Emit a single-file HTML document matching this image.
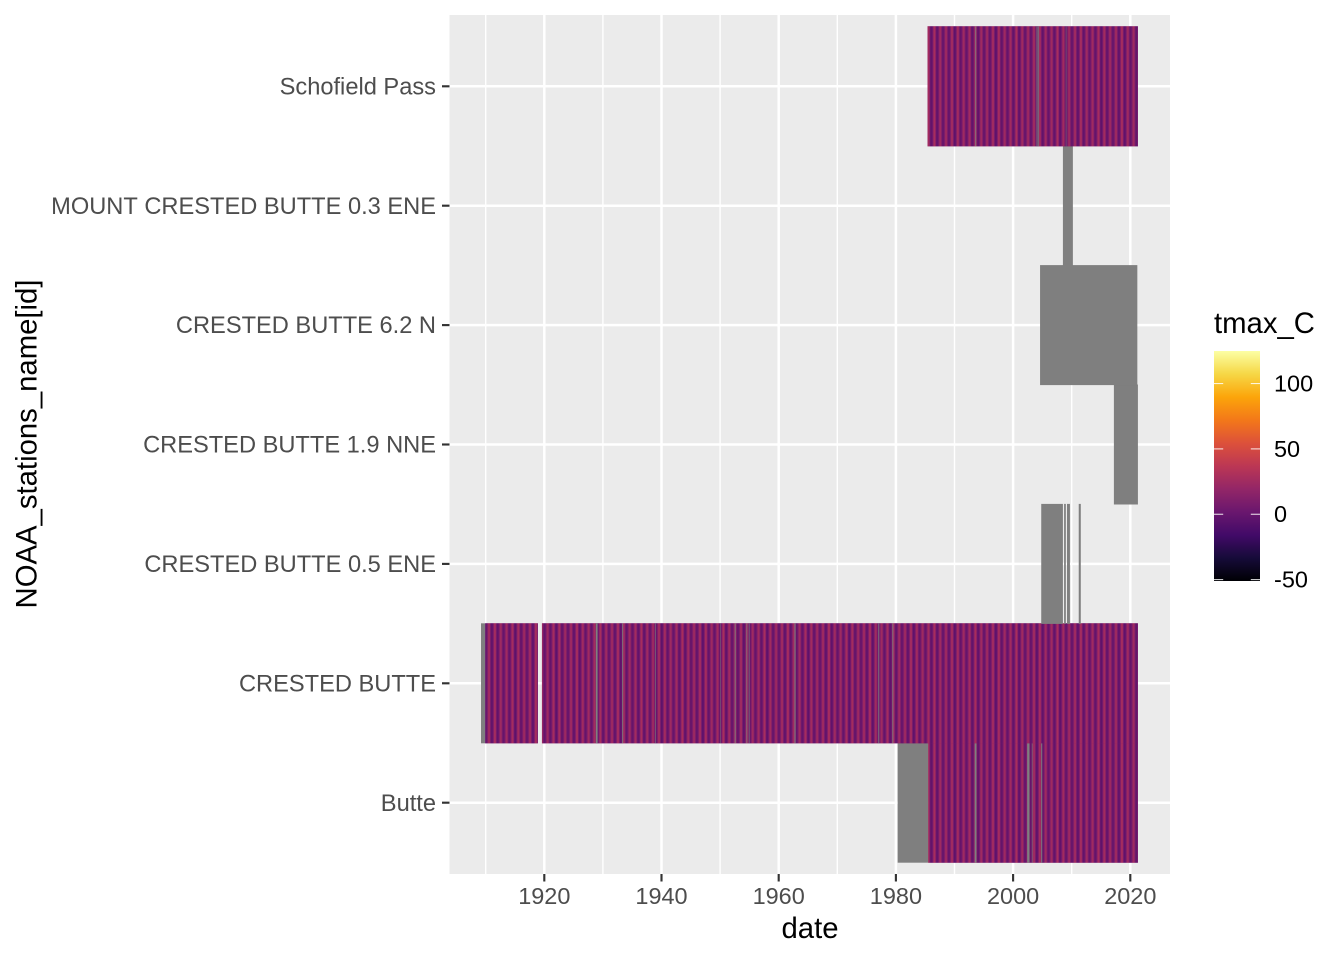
<!DOCTYPE html>
<html>
<head>
<meta charset="utf-8">
<title>tmax_C by station and date</title>
<style>
html,body{margin:0;padding:0;background:#fff}
svg{display:block}
text{font-family:"Liberation Sans",sans-serif;font-kerning:none}
</style>
</head>
<body>
<svg id="chart" xmlns="http://www.w3.org/2000/svg" width="1344" height="960" viewBox="0 0 1344 960">
  <defs>
    <linearGradient id="legend-gradient" x1="0" y1="1" x2="0" y2="0"></linearGradient>
  </defs>
  <rect x="0" y="0" width="1344" height="960" fill="#ffffff"/>
  <rect x="449.5" y="15" width="720.5" height="859" fill="#ebebeb"/>
  <g id="grid"></g>
  <g id="tiles"></g>
  <g id="x-axis"></g>
  <g id="y-axis"></g>
  <text x="810" y="938" font-size="29.3" text-anchor="middle" fill="#000">date</text>
  <text transform="translate(36.5,444) rotate(-90)" font-size="29.3" text-anchor="middle" fill="#000">NOAA_stations_name[id]</text>
  <g id="legend">
    <text x="1214" y="333" font-size="29.3" fill="#000">tmax_C</text>
    <rect x="1214" y="351" width="46" height="230" fill="url(#legend-gradient)"/>
  </g>
</svg>
<script>
const stationNames = ["Butte", "CRESTED BUTTE", "CRESTED BUTTE 0.5 ENE", "CRESTED BUTTE 1.9 NNE", "CRESTED BUTTE 6.2 N", "MOUNT CRESTED BUTTE 0.3 ENE", "Schofield Pass"];
const xTickYears = [1920, 1940, 1960, 1980, 2000, 2020];
const xMinorYears = [1910, 1930, 1950, 1970, 1990, 2010];
const legendTicks = [-50, 0, 50, 100];
const monthlyTmaxC = [-4, -3, 1, 8, 16, 25, 30, 29, 24, 14, 4, -3];
const observedSpans = [
  [[1985.5, 2021.3]],
  [[1909.9, 1918.9], [1919.6, 2021.3]],
  [],
  [],
  [],
  [],
  [[1985.4, 2021.3]]
];
const missingSpans = [
  [[1980.3, 1985.5], [1993.45, 1993.75], [2002.4, 2002.8], [2003.2, 2003.3], [2004.8, 2004.97]],
  [[1909.2, 1909.9], [1928.8, 1929.1], [1933.3, 1933.45], [1938.9, 1939.0], [1950.0, 1950.08], [1952.5, 1952.65], [1954.5, 1954.62], [1954.9, 1955.02], [1962.7, 1962.88], [1977.0, 1977.15], [1979.4, 1979.55]],
  [[2004.8, 2008.5], [2008.7, 2009.0], [2009.2, 2009.7], [2011.2, 2011.55]],
  [[2017.2, 2021.3]],
  [[2004.6, 2021.2]],
  [[2008.5, 2010.2]],
  [[1993.55, 1993.7], [2004.0, 2004.17], [2004.3, 2004.42], [2009.0, 2009.08]]
];
const infernoColors = ["#000004", "#160b39", "#420a68", "#6a176e", "#932667", "#bc3754", "#dd513a", "#f37819", "#fca50a", "#f6d746", "#fcffa4"];
const colorDomain = [-51, 125];
const naColor = "#7f7f7f";

const SVGNS = "http://www.w3.org/2000/svg";
function xScale(year) { return 544.3 + (year - 1920) * 5.86; }
function yScale(index) { return 802.7 - index * 119.4; }
function legendY(value) { return 579.6 - (value + 50) * 1.307; }
const bandHeight = 120;

function hexToRgb(h) {
  return [parseInt(h.slice(1, 3), 16), parseInt(h.slice(3, 5), 16), parseInt(h.slice(5, 7), 16)];
}
function colorScale(value) {
  const t = Math.max(0, Math.min(1, (value - colorDomain[0]) / (colorDomain[1] - colorDomain[0])));
  const p = t * (infernoColors.length - 1);
  const i = Math.min(infernoColors.length - 2, Math.floor(p));
  const a = hexToRgb(infernoColors[i]);
  const b = hexToRgb(infernoColors[i + 1]);
  const f = p - i;
  return "rgb(" + a.map(function (c, k) { return Math.round(c + (b[k] - c) * f); }).join(",") + ")";
}
function make(tag, attrs, parent) {
  const el = document.createElementNS(SVGNS, tag);
  for (const k in attrs) { el.setAttribute(k, attrs[k]); }
  parent.appendChild(el);
  return el;
}

const gridG = document.getElementById("grid");
xMinorYears.forEach(function (yr) {
  const l = make("line", { x1: xScale(yr), x2: xScale(yr), y1: 15, y2: 874, stroke: "#ffffff", "stroke-width": 1.4 }, gridG);
  
  
});
xTickYears.forEach(function (yr) {
  const l = make("line", { x1: xScale(yr), x2: xScale(yr), y1: 15, y2: 874, stroke: "#ffffff", "stroke-width": 2.5 }, gridG);
  
  
});
stationNames.forEach(function (name, i) {
  const l = make("line", { x1: 449.5, x2: 1170, y1: yScale(i), y2: yScale(i), stroke: "#ffffff", "stroke-width": 2.5 }, gridG);
  
  
});

const tilesG = document.getElementById("tiles");
const meanTmax = monthlyTmaxC.reduce(function (a, b) { return a + b; }, 0) / monthlyTmaxC.length;
stationNames.forEach(function (name, i) {
  const top = yScale(i) - bandHeight / 2;
  observedSpans[i].forEach(function (span) {
    const base = make("rect", { x: xScale(span[0]), y: top, width: xScale(span[1]) - xScale(span[0]), height: bandHeight, fill: colorScale(meanTmax) }, tilesG);
    
    
    for (let yr = Math.floor(span[0]); yr <= Math.ceil(span[1]); yr++) {
      monthlyTmaxC.forEach(function (v, m) {
        const start = yr + m / 12;
        const end = yr + (m + 1) / 12;
        if (end <= span[0] || start >= span[1]) { return; }
        const s = Math.max(start, span[0]);
        const e = Math.min(end, span[1]);
        const cell = make("rect", { x: xScale(s), y: top, width: xScale(e) - xScale(s), height: bandHeight, fill: colorScale(v) }, tilesG);
        
        
      });
    }
  });
  missingSpans[i].forEach(function (span) {
    const na = make("rect", { x: xScale(span[0]), y: top, width: xScale(span[1]) - xScale(span[0]), height: bandHeight, fill: naColor }, tilesG);
    
    
  });
});

const xAxisG = document.getElementById("x-axis");
xTickYears.forEach(function (yr) {
  const t = make("line", { x1: xScale(yr), x2: xScale(yr), y1: 874, y2: 881.5, stroke: "#333333", "stroke-width": 2.13 }, xAxisG);
  
  
  const lab = make("text", { x: xScale(yr), y: 904, "font-size": 23.47, "text-anchor": "middle", fill: "#4d4d4d" }, xAxisG);
  
  
  lab.textContent = String(yr);
});

const yAxisG = document.getElementById("y-axis");
stationNames.forEach(function (name, i) {
  const t = make("line", { x1: 442, x2: 449.5, y1: yScale(i), y2: yScale(i), stroke: "#333333", "stroke-width": 2.13 }, yAxisG);
  
  
  const lab = make("text", { x: 436, y: yScale(i) + 8.1, "font-size": 23.65, "text-anchor": "end", fill: "#4d4d4d" }, yAxisG);
  
  
  lab.textContent = name;
});

const grad = document.getElementById("legend-gradient");
infernoColors.forEach(function (c, i) {
  make("stop", { offset: (i / (infernoColors.length - 1)), "stop-color": c }, grad);
});
const legendG = document.getElementById("legend");
legendTicks.forEach(function (v) {
  const y = legendY(v);
  const a = make("line", { x1: 1214, x2: 1223.2, y1: y, y2: y, stroke: "#ffffff", "stroke-width": 1.07, "stroke-opacity": 0.85 }, legendG);
  
  
  const b = make("line", { x1: 1250.8, x2: 1260, y1: y, y2: y, stroke: "#ffffff", "stroke-width": 1.07, "stroke-opacity": 0.85 }, legendG);
  
  
  const lab = make("text", { x: 1274, y: y + 7.9, "font-size": 23.47, fill: "#000000" }, legendG);
  
  
  lab.textContent = String(v);
});
</script>
</body>
</html>
